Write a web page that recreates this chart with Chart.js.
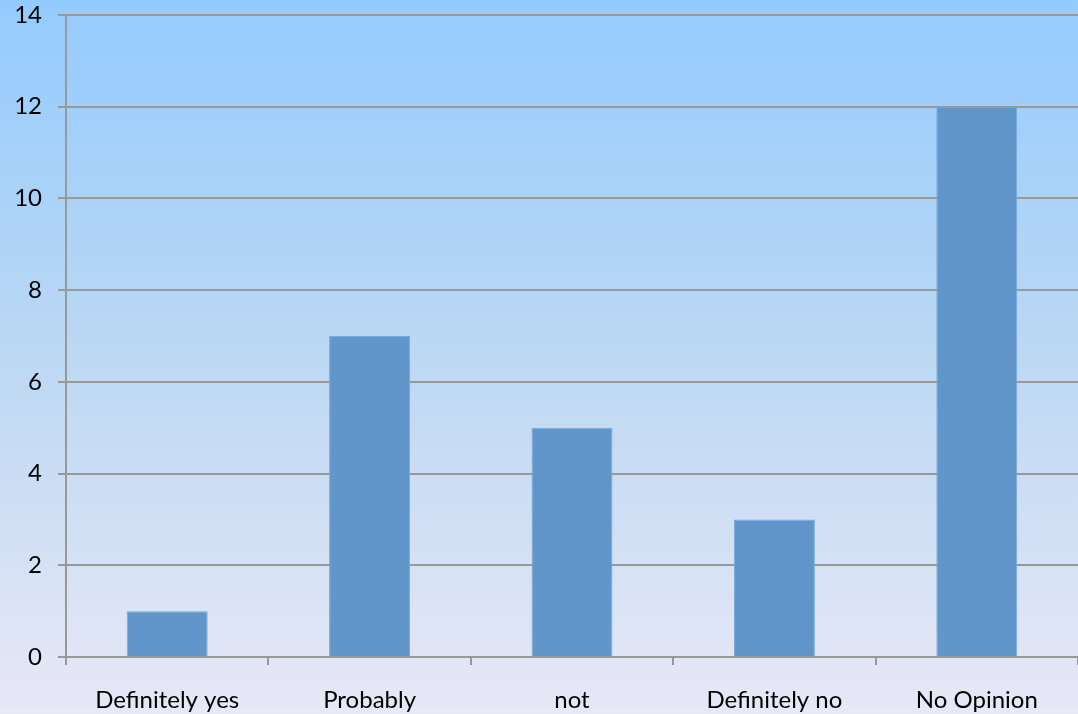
<!DOCTYPE html>
<html>
<head>
<meta charset="utf-8">
<script src="https://cdn.jsdelivr.net/npm/chart.js@4"></script>
<style>
  html, body { margin: 0; padding: 0; background: #e8e8f6; }
  #wrap { width: 1078px; height: 714px; }
</style>
</head>
<body>
<div id="wrap"><canvas id="chart" width="1078" height="714"></canvas></div>
<script>
// survey answers and counts
const categories = ['Definitely yes', 'Probably', 'not', 'Definitely no', 'No Opinion'];
const counts = [1, 7, 5, 3, 12];
const yTicks = [0, 2, 4, 6, 8, 10, 12, 14];

// soft blue-to-lavender backdrop behind the whole canvas
const backdrop = {
    id: 'backdrop',
    beforeDraw(chart) {
        const { ctx, width, height } = chart;
        const g = ctx.createLinearGradient(0, 0, 0, height);
        g.addColorStop(0, '#94cbfe');
        g.addColorStop(0.5, '#bcd8f3');
        g.addColorStop(1, '#e8e8f6');
        ctx.save();
        ctx.fillStyle = g;
        ctx.fillRect(0, 0, width, height);
        ctx.restore();
    }
};

const font = { family: 'Lato, "Open Sans", sans-serif', size: 24 };

new Chart(document.getElementById('chart'), {
    type: 'bar',
    data: {
        labels: categories,
        datasets: [{
            data: counts,
            backgroundColor: '#6096c9',
            borderColor: '#78a9dc',
            borderWidth: 1,
            barPercentage: 0.4,
            categoryPercentage: 1
        }]
    },
    options: {
        responsive: false,
        animation: false,
        layout: { padding: 0 },
        plugins: { legend: { display: false }, tooltip: { enabled: false } },
        scales: {
            x: {
                grid: {
                    offset: true,
                    drawOnChartArea: false,
                    drawTicks: true,
                    tickLength: 8,
                    color: '#999999',
                    lineWidth: 2
                },
                border: { color: '#999999', width: 2 },
                ticks: { color: '#000', font: font, padding: 21, maxRotation: 0 },
                afterFit(scale) { scale.height = 57; }
            },
            y: {
                min: 0,
                max: 14,
                afterBuildTicks(scale) { scale.ticks = yTicks.map(v => ({ value: v })); },
                grid: { color: '#999999', lineWidth: 2, tickLength: 8 },
                border: { color: '#999999', width: 2 },
                ticks: { color: '#000', font: font, padding: 16 },
                afterFit(scale) {
                    scale.width = 66;
                    // keep the top of the plot close to the canvas edge
                    scale.paddingTop = 15;
                }
            }
        }
    },
    plugins: [backdrop]
});
</script>
</body>
</html>
